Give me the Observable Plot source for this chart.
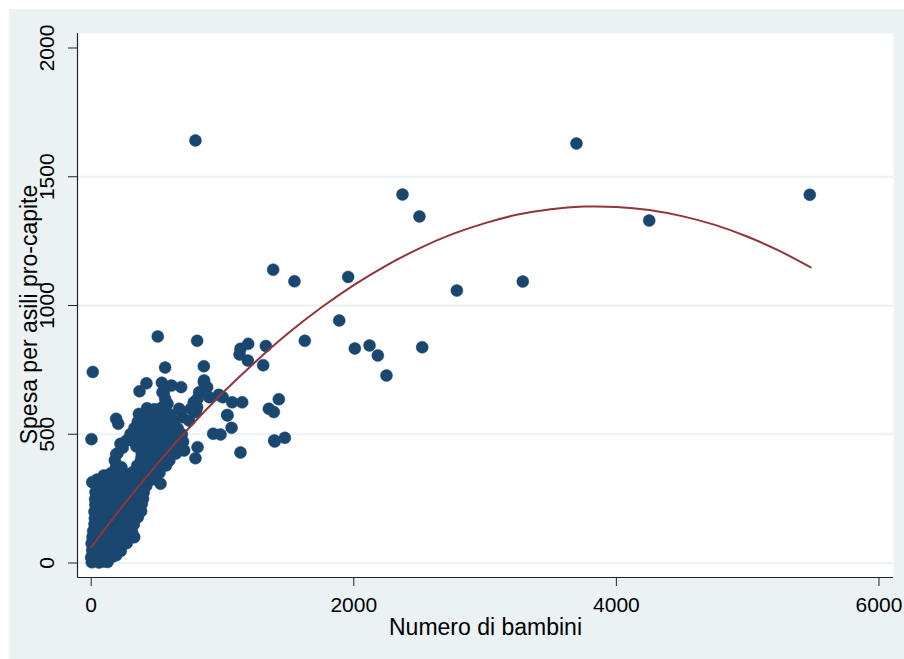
<!DOCTYPE html>
<html>
<head>
<meta charset="utf-8">
<script src="https://cdn.jsdelivr.net/npm/d3@7"></script>
<script src="https://cdn.jsdelivr.net/npm/@observablehq/plot@0.6"></script>
<style>
  html, body { margin: 0; padding: 0; background: #ffffff; }
  #bg { position: absolute; left: 9px; top: 9px; width: 895px; height: 650px; background: #EAF2F3; }
  #chart { position: absolute; left: 0; top: 0; }
</style>
</head>
<body>
<div id="bg"></div>
<div id="chart"></div>
<script>
// ---- Data ----
// Dense cluster near the origin (rows of observations)
const clusterBambini = [
  5, 30, 60, 95, 125,
  0, 40, 80, 120, 160, 190,
  8, 50, 95, 140, 185, 225,
  3, 45, 90, 135, 180, 225, 270,
  10, 55, 100, 150, 200, 250, 300, 325,
  15, 60, 110, 160, 210, 260, 310,
  25, 70, 120, 170, 220, 270, 325,
  28, 75, 125, 175, 225, 275, 320, 355,
  25, 75, 130, 185, 240, 290, 340, 380,
  32, 85, 140, 195, 250, 300, 350, 385,
  30, 85, 145, 200, 255, 310, 360, 395,
  38, 95, 150, 210, 265, 320, 370, 400,
  42, 100, 160, 220, 280, 335, 385, 420,
  45, 110, 170, 230, 290, 350, 410, 470,
  150, 205, 260, 315, 370, 425, 480, 520,
  190, 230, 350, 405, 460, 515, 570,
  180, 380, 430, 485, 540, 595,
  200, 385, 440, 495, 550, 605, 645,
  240, 345, 400, 455, 510, 565, 620, 675,
  270, 325, 385, 440, 495, 550, 605, 660, 700,
  300, 355, 410, 465, 520, 575, 630, 690,
  330, 385, 440, 495, 550, 605, 660,
  355, 410, 465, 520, 575, 630,
  385, 440, 495, 550, 600,
  425, 480, 535
];
const clusterSpesa = [
  3, 8, 2, 6, 4,
  22, 28, 20, 27, 24, 30,
  50, 46, 54, 48, 52, 47,
  76, 72, 78, 74, 80, 73, 77,
  101, 97, 104, 99, 103, 96, 100, 102,
  124, 128, 122, 127, 121, 126, 123,
  151, 147, 153, 149, 152, 148, 150,
  174, 178, 172, 177, 173, 176, 171, 178,
  199, 203, 197, 202, 198, 204, 196, 201,
  226, 222, 228, 224, 227, 221, 225, 229,
  248, 252, 246, 253, 249, 251, 247, 250,
  276, 272, 278, 274, 277, 273, 279, 275,
  301, 297, 303, 299, 302, 298, 304, 300,
  324, 328, 322, 327, 323, 326, 321, 325,
  349, 353, 347, 352, 348, 351, 346, 350,
  376, 372, 378, 374, 377, 373, 379,
  399, 403, 401, 397, 402, 398,
  426, 422, 428, 424, 427, 421, 425,
  448, 452, 446, 453, 449, 451, 447, 450,
  476, 472, 478, 474, 477, 473, 479, 475, 471,
  501, 497, 503, 499, 502, 498, 504, 500,
  524, 528, 522, 527, 523, 526, 521,
  549, 553, 547, 552, 548, 551,
  576, 572, 578, 574, 577,
  601, 597, 603
];
// Scattered observations
const sparseBambini = [
  794, 3696, 2371, 2500, 4250, 5473, 2785, 3287, 1957, 1889,
  2008, 2120, 2183, 2249, 2521, 1386, 1548, 1627, 1429, 1353,
  1391, 1398, 1475, 1137, 1310, 1330, 507, 807, 12, 2,
  563, 858, 1137, 1196, 1130, 1193, 1069, 929, 985, 1036,
  1074, 1150, 972, 1002, 794, 421, 368, 538, 612, 685,
  553, 573, 858, 883, 190, 206, 363, 452, 680, 693,
  781, 807, 797, 8, 96, 33, 190, 223, 528, 708,
  810, 670, 759, 746, 810, 822, 860, 899, 1038, 563,
  543, 581, 429, 467, 327, 1394
];
const sparseSpesa = [
  1641, 1629, 1431, 1346, 1330, 1430, 1058, 1093, 1111, 942,
  833, 845, 806, 728, 838, 1139, 1094, 863, 636, 599,
  586, 472, 486, 429, 768, 843, 880, 863, 742, 481,
  759, 764, 832, 851, 810, 786, 525, 502, 499, 575,
  624, 624, 653, 644, 407, 698, 667, 700, 689, 683,
  663, 618, 702, 683, 560, 541, 579, 560, 592, 566,
  624, 605, 586, 314, 340, 275, 421, 463, 308, 437,
  450, 599, 599, 553, 638, 663, 709, 644, 573, 638,
  663, 618, 566, 553, 100, 476
];
// Fitted (quadratic) curve, read along its path
const fitBambini = [0, 250, 500, 750, 1000, 1250, 1500, 1750, 2000, 2250, 2500, 2750,
  3000, 3250, 3500, 3750, 4000, 4250, 4500, 4750, 5000, 5250, 5480];
const fitSpesa = [61, 228, 383, 527, 660, 781, 892, 991, 1079, 1156, 1222, 1277,
  1320, 1353, 1374, 1384, 1383, 1371, 1347, 1313, 1267, 1210, 1148];

const xTicks = [0, 2000, 4000, 6000];
const yTicks = [0, 500, 1000, 1500, 2000];
const yGrid = [0, 500, 1000, 1500];
const xTitle = "Numero di bambini";
const yTitle = "Spesa per asili pro-capite";

// ---- Build tables ----
const points = [];
clusterBambini.forEach((b, i) => points.push({x: b, y: clusterSpesa[i]}));
sparseBambini.forEach((b, i) => points.push({x: b, y: sparseSpesa[i]}));
const fit = fitBambini.map((b, i) => ({x: b, y: fitSpesa[i]}));

const xDomain = [-104.3, 6110.6];
const yDomain = [-56.3, 2056.3];
const font = "'Liberation Sans', Arial, Helvetica, sans-serif";

const chart = Plot.plot({
  width: 904,
  height: 659,
  marginLeft: 77,
  marginRight: 11,
  marginTop: 33,
  marginBottom: 82,
  style: {background: "transparent", fontFamily: font, color: "#000"},
  x: {domain: xDomain, axis: null},
  y: {domain: yDomain, axis: null},
  marks: [
    Plot.frame({fill: "white", stroke: "none"}),
    Plot.ruleY(yGrid, {y: d => d, stroke: "#EAF2F3", strokeWidth: 2}),
    Plot.ruleX([xDomain[0]], {x: d => d, stroke: "#222", strokeWidth: 1.2}),
    Plot.ruleY([yDomain[0]], {y: d => d, stroke: "#222", strokeWidth: 1.2}),
    Plot.axisX({ticks: xTicks, tickSize: 9, tickPadding: 11, tickFormat: "d", fontSize: 21, stroke: "#222", label: null}),
    Plot.axisY({ticks: yTicks, tickSize: 9, tickPadding: 15, tickFormat: "d", tickRotate: -90, fontSize: 21, stroke: "#222", label: null}),
    Plot.text([xTitle], {text: d => d, frameAnchor: "bottom", dy: 57, lineAnchor: "bottom", textAnchor: "middle", fontSize: 23, fill: "#000"}),
    Plot.text([yTitle], {text: d => d, frameAnchor: "left", rotate: -90, dx: -41, dy: 9, lineAnchor: "bottom", textAnchor: "middle", fontSize: 23, fill: "#000"}),
    Plot.dot(points, {x: "x", y: "y", r: 6, fill: "#1A476F", stroke: "#1A476F", strokeWidth: 0.5}),
    Plot.line(fit, {x: "x", y: "y", stroke: "#90353B", strokeWidth: 2, curve: "natural"})
  ]
});
document.getElementById("chart").appendChild(chart);
</script>
</body>
</html>
